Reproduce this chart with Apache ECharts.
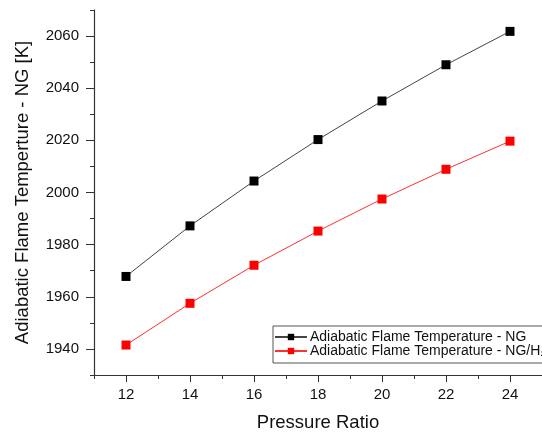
<!DOCTYPE html>
<html>
<head>
<meta charset="utf-8">
<script src="https://cdn.jsdelivr.net/npm/echarts@6/dist/echarts.min.js"></script>
<style>
  html, body { margin: 0; padding: 0; background: #fff; }
  #chart { width: 542px; height: 437px; }
</style>
</head>
<body>
<div id="chart"></div>
<script>
// pressure ratio (x)
const pressureRatio = [12, 14, 16, 18, 20, 22, 24];
// adiabatic flame temperature [K]
const tempNG = [1967.8, 1987.2, 2004.4, 2020.3, 2035.1, 2049.0, 2061.8];
const tempNGH2 = [1941.5, 1957.5, 1972.1, 1985.2, 1997.5, 2008.9, 2019.7];
// major tick labels
const xTicks = [12, 14, 16, 18, 20, 22, 24];
const yTicks = [1940, 1960, 1980, 2000, 2020, 2040, 2060];

const nameNG = 'Adiabatic Flame Temperature - NG';
const nameNGH2 = 'Adiabatic Flame Temperature - NG/H\u2082';

let chartDom = document.getElementById('chart');
let myChart = echarts.init(chartDom, null, { renderer: 'canvas' });

const axisColor = '#333';
const font = 'Liberation Sans, Arial, sans-serif';

let option = {
  animation: false,
  backgroundColor: '#fff',
  textStyle: { fontFamily: font },
  grid: { left: 94, top: 10, right: -10, bottom: 59 },
  legend: {
    orient: 'vertical',
    left: 273,
    top: 326,
    padding: [4, 40, 5, 1],
    itemGap: 0,
    itemWidth: 32,
    itemHeight: 8,
    borderColor: '#555',
    borderWidth: 1,
    backgroundColor: '#fff',
    textStyle: { fontSize: 14, color: '#111', fontFamily: font, padding: [0, 0, 0, -2] },
    data: [nameNG, nameNGH2]
  },
  xAxis: [
    {
      // minor ticks every 1 (short), carries axis line
      type: 'value', min: 11, max: 25, interval: 1,
      axisLine: { show: true, lineStyle: { color: axisColor, width: 1.2 } },
      axisTick: { show: true, length: 4, lineStyle: { color: axisColor } },
      axisLabel: { show: false },
      splitLine: { show: false }
    },
    {
      // major ticks + labels
      type: 'value', min: 11, max: 25, position: 'bottom',
      name: 'Pressure Ratio',
      nameLocation: 'middle',
      nameGap: 38,
      nameTextStyle: { fontSize: 18.5, color: '#111', fontFamily: font },
      axisLine: { show: false },
      axisTick: { show: true, length: 7, customValues: xTicks, lineStyle: { color: axisColor } },
      axisLabel: { show: true, customValues: xTicks, fontSize: 15, color: '#111', margin: 12, fontFamily: font },
      splitLine: { show: false }
    }
  ],
  yAxis: [
    {
      type: 'value', min: 1930, max: 2070, interval: 10,
      axisLine: { show: true, lineStyle: { color: axisColor, width: 1.2 } },
      axisTick: { show: true, length: 4, lineStyle: { color: axisColor } },
      axisLabel: { show: false },
      splitLine: { show: false }
    },
    {
      type: 'value', min: 1930, max: 2070, position: 'left',
      name: 'Adiabatic Flame Temperture - NG [K]',
      nameLocation: 'middle',
      nameGap: 62,
      nameRotate: 90,
      nameTextStyle: { fontSize: 18.5, color: '#111', fontFamily: font },
      axisLine: { show: false },
      axisTick: { show: true, length: 8, customValues: yTicks, lineStyle: { color: axisColor } },
      axisLabel: {
        show: true, customValues: yTicks, fontSize: 15, color: '#111', margin: 15, fontFamily: font,
        formatter: v => String(v)
      },
      splitLine: { show: false }
    }
  ],
  series: [
    {
      name: nameNG,
      type: 'line',
      xAxisIndex: 0, yAxisIndex: 0,
      data: pressureRatio.map((x, i) => [x, tempNG[i]]),
      symbol: 'rect',
      symbolSize: 9,
      itemStyle: { color: '#000' },
      lineStyle: { color: '#444', width: 1 },
      z: 3
    },
    {
      name: nameNGH2,
      type: 'line',
      xAxisIndex: 0, yAxisIndex: 0,
      data: pressureRatio.map((x, i) => [x, tempNGH2[i]]),
      symbol: 'rect',
      symbolSize: 9,
      itemStyle: { color: '#ff0000' },
      lineStyle: { color: '#ff3030', width: 1 },
      z: 3
    }
  ]
};

option && myChart.setOption(option);
</script>
</body>
</html>
